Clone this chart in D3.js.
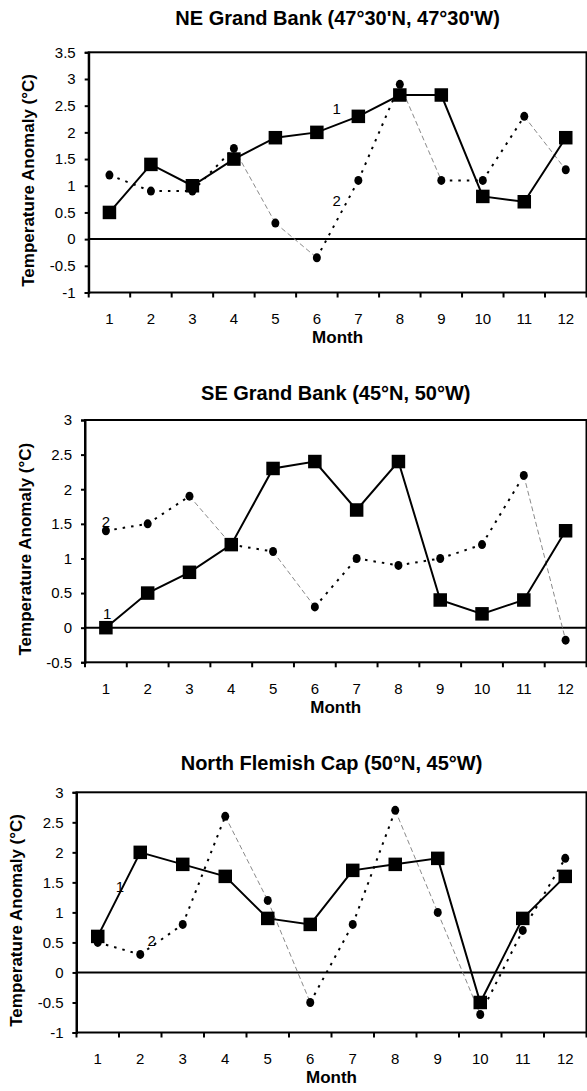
<!DOCTYPE html>
<html>
<head>
<meta charset="utf-8">
<script src="https://cdn.jsdelivr.net/npm/d3@7"></script>
<style>
  html, body { margin: 0; padding: 0; background: #fff; }
  svg { display: block; font-family: Arial, "Liberation Sans", sans-serif; }
</style>
</head>
<body>
<svg id="chart" width="587" height="1091"></svg>
<script>
// ---------- data ----------
const months = [1, 2, 3, 4, 5, 6, 7, 8, 9, 10, 11, 12];

const neTitle = "NE Grand Bank (47°30'N, 47°30'W)";
const neSeries1 = [0.5, 1.4, 1.0, 1.5, 1.9, 2.0, 2.3, 2.7, 2.7, 0.8, 0.7, 1.9];
const neSeries2 = [1.2, 0.9, 0.9, 1.7, 0.3, -0.35, 1.1, 2.9, 1.1, 1.1, 2.3, 1.3];
const neYTicks = [-1, -0.5, 0, 0.5, 1, 1.5, 2, 2.5, 3, 3.5];

const seTitle = "SE Grand Bank (45°N, 50°W)";
const seSeries1 = [0, 0.5, 0.8, 1.2, 2.3, 2.4, 1.7, 2.4, 0.4, 0.2, 0.4, 1.4];
const seSeries2 = [1.4, 1.5, 1.9, 1.2, 1.1, 0.3, 1.0, 0.9, 1.0, 1.2, 2.2, -0.18];
const seYTicks = [-0.5, 0, 0.5, 1, 1.5, 2, 2.5, 3];

const nfTitle = "North Flemish Cap (50°N, 45°W)";
const nfSeries1 = [0.6, 2.0, 1.8, 1.6, 0.9, 0.8, 1.7, 1.8, 1.9, -0.5, 0.9, 1.6];
const nfSeries2 = [0.5, 0.3, 0.8, 2.6, 1.2, -0.5, 0.8, 2.7, 1.0, -0.7, 0.7, 1.9];
const nfYTicks = [-1, -0.5, 0, 0.5, 1, 1.5, 2, 2.5, 3];

const seriesNames = ["1", "2"];
const xTitle = "Month";
const yTitle = "Temperature Anomaly (°C)";

// ---------- layout ----------
const panels = [
  { title: neTitle, s1: neSeries1, s2: neSeries2, ticks: neYTicks,
    left: 88.7, right: 586.5, top: 52.3, bottom: 292.5, titleY: 18,
    lab1: { m: 6.48, v: 2.45 }, lab2: { m: 6.48, v: 0.73 } },
  { title: seTitle, s1: seSeries1, s2: seSeries2, ticks: seYTicks,
    left: 85, right: 586.5, top: 420, bottom: 662.3, titleY: 393,
    lab1: { m: 1.03, v: 0.21 }, lab2: { m: 1.0, v: 1.53 } },
  { title: nfTitle, s1: nfSeries1, s2: nfSeries2, ticks: nfYTicks,
    left: 76.5, right: 586.5, top: 792.3, bottom: 1032.5, titleY: 763,
    lab1: { m: 1.52, v: 1.43 }, lab2: { m: 2.27, v: 0.54 } }
];

const svg = d3.select("#chart");

function fmt(v) { return String(v); }

panels.forEach(p => {
  const g = svg.append("g");
  const x = d3.scaleBand().domain(months).range([p.left, p.right]).padding(0);
  const y = d3.scaleLinear().domain([d3.min(p.ticks), d3.max(p.ticks)]).range([p.bottom, p.top]);
  const cx = m => x(m) + x.bandwidth() / 2;
  const xc = t => p.left + (t - 0.5) * x.bandwidth();

  // title
  g.append("text")
    .attr("x", (p.left + p.right) / 2).attr("y", p.titleY)
    .attr("text-anchor", "middle").attr("dominant-baseline", "central")
    .attr("font-size", 20).attr("font-weight", "bold")
    .text(p.title);

  // frame
  g.append("rect")
    .attr("x", p.left).attr("y", p.top)
    .attr("width", p.right - p.left).attr("height", p.bottom - p.top)
    .attr("fill", "none").attr("stroke", "#000").attr("stroke-width", 2);

  // zero line
  g.append("line")
    .attr("x1", p.left).attr("x2", p.right)
    .attr("y1", y(0)).attr("y2", y(0))
    .attr("stroke", "#000").attr("stroke-width", 2);

  // y axis
  const yAxis = d3.axisLeft(y).tickValues(p.ticks).tickFormat(fmt).tickSize(4).tickPadding(9);
  const ya = g.append("g").attr("transform", `translate(${p.left},0)`).call(yAxis);
  ya.select(".domain").attr("stroke-width", 2);
  ya.selectAll(".tick line").attr("stroke-width", 2);
  ya.selectAll("text").attr("font-size", 15).attr("fill", "#000")
    .attr("font-family", "Arial, 'Liberation Sans', sans-serif");

  // x axis (labels centred in bands, ticks at band boundaries)
  const xAxis = d3.axisBottom(x).tickSize(0).tickPadding(21);
  const xa = g.append("g").attr("transform", `translate(0,${p.bottom})`).call(xAxis);
  xa.select(".domain").remove();
  xa.selectAll("text").attr("font-size", 15).attr("fill", "#000")
    .attr("font-family", "Arial, 'Liberation Sans', sans-serif");
  const bounds = months.map(m => x(m)).concat([x(months[months.length - 1]) + x.bandwidth()]);
  g.selectAll(".xtick").data(bounds).enter().append("line")
    .attr("x1", d => d).attr("x2", d => d)
    .attr("y1", p.bottom).attr("y2", p.bottom + 5)
    .attr("stroke", "#000").attr("stroke-width", 2);

  // axis titles
  g.append("text")
    .attr("x", (p.left + p.right) / 2).attr("y", p.bottom + 45)
    .attr("text-anchor", "middle").attr("dominant-baseline", "central")
    .attr("font-size", 17).attr("font-weight", "bold")
    .text(xTitle);
  const ly = (p.top + p.bottom) / 2 + 8;
  g.append("text")
    .attr("transform", `translate(${p.left - 60},${ly}) rotate(-90)`)
    .attr("text-anchor", "middle").attr("dominant-baseline", "central")
    .attr("font-size", 17).attr("font-weight", "bold")
    .text(yTitle);

  // series 2 : dotted, drawn segment by segment
  const pts2 = months.map((m, i) => [cx(m), y(p.s2[i]), p.s2[i]]);
  for (let i = 0; i < pts2.length - 1; i++) {
    const a = pts2[i], b = pts2[i + 1];
    const falling = a[2] - b[2] > 0.3;
    g.append("path")
      .attr("d", d3.line()([[a[0], a[1]], [b[0], b[1]]]))
      .attr("fill", "none")
      .attr("stroke", falling ? "#8a8a8a" : "#000")
      .attr("stroke-width", falling ? 1 : 2)
      .attr("stroke-dasharray", falling ? "5,3" : "2.5,6");
  }
  g.selectAll(".c2").data(months).enter().append("ellipse")
    .attr("cx", m => cx(m)).attr("cy", (m, i) => y(p.s2[i]))
    .attr("rx", 4).attr("ry", 4.5).attr("fill", "#000");

  // series 1 : solid with squares
  const line1 = d3.line().x(m => cx(m)).y((m, i) => y(p.s1[i]));
  g.append("path").attr("d", line1(months))
    .attr("fill", "none").attr("stroke", "#000").attr("stroke-width", 2);
  const sq = 13.5;
  g.selectAll(".s1").data(months).enter().append("rect")
    .attr("x", m => cx(m) - sq / 2).attr("y", (m, i) => y(p.s1[i]) - sq / 2)
    .attr("width", sq).attr("height", sq).attr("fill", "#000");

  // series labels
  [p.lab1, p.lab2].forEach((l, k) => {
    g.append("text")
      .attr("x", xc(l.m)).attr("y", y(l.v))
      .attr("text-anchor", "middle").attr("dominant-baseline", "central")
      .attr("font-size", 15).text(seriesNames[k]);
  });
});
</script>
</body>
</html>
